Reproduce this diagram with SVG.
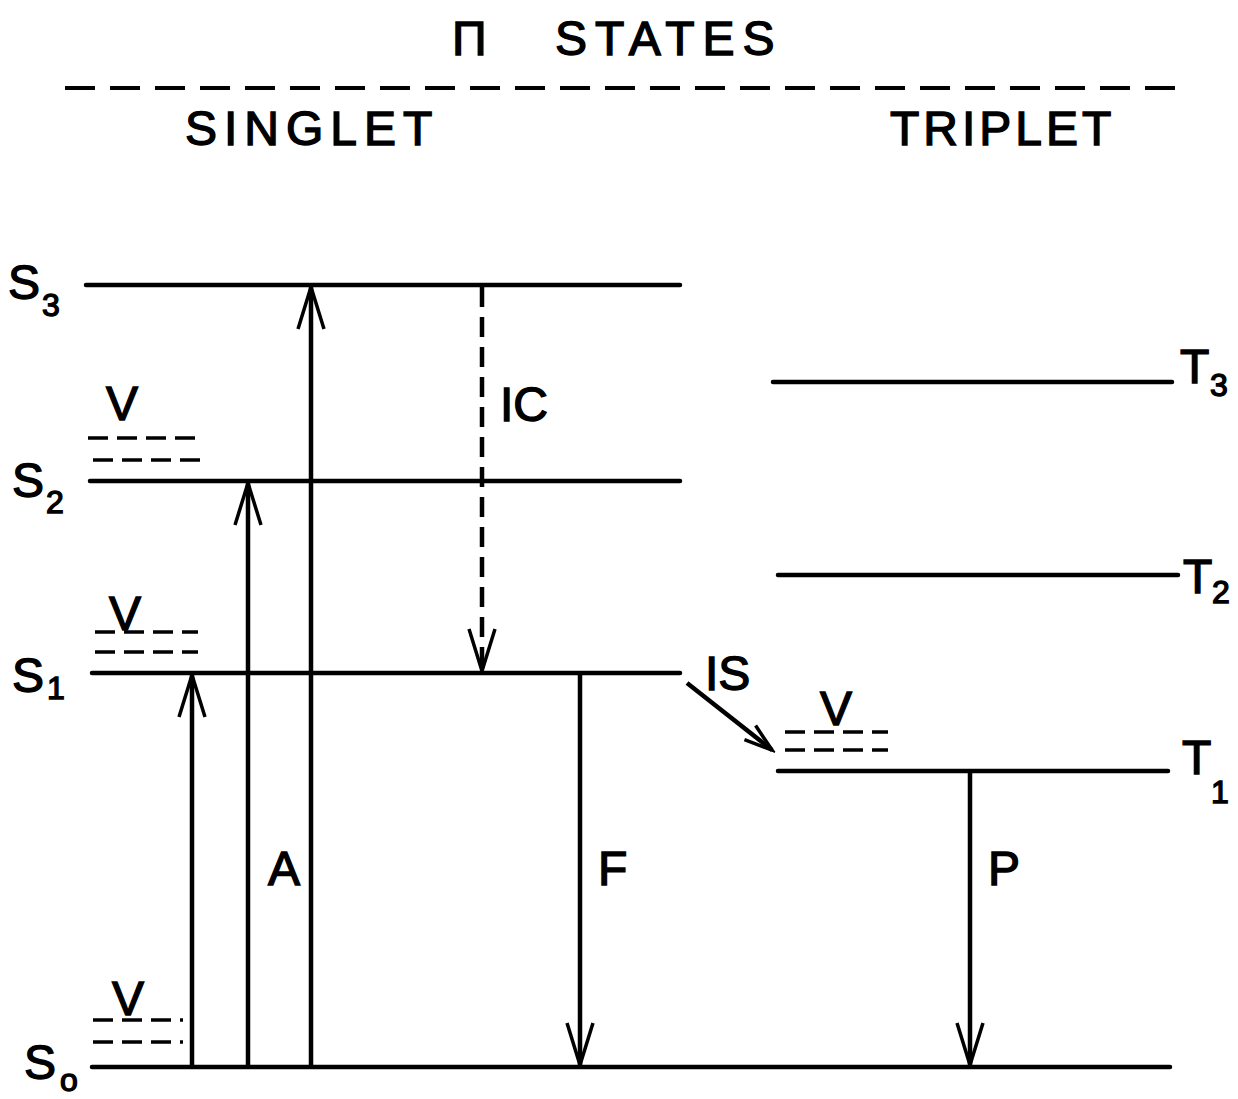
<svg xmlns="http://www.w3.org/2000/svg" width="1238" height="1099" viewBox="0 0 1238 1099">
<style>
text{font-family:"Liberation Sans",Arial,sans-serif;fill:#000;stroke:#000;stroke-width:1.4;}
.big{font-size:48px;}
.sub{font-size:32px;}
.lvl{stroke:#000;stroke-width:4.5;fill:none;stroke-linecap:round;}
.vib{stroke:#000;stroke-width:3.5;stroke-dasharray:20 9;fill:none;}
.arr{stroke:#000;stroke-width:4.5;fill:none;}
</style>
<defs>
<marker id="ah" markerUnits="userSpaceOnUse" markerWidth="50" markerHeight="34" viewBox="-46 -17 50 34" refX="0" refY="0" orient="auto">
<path d="M-42,-13 L0,0 L-42,13" fill="none" stroke="#000" stroke-width="3.5"/>
</marker>
<marker id="ahs" markerUnits="userSpaceOnUse" markerWidth="36" markerHeight="24" viewBox="-32 -12 36 24" refX="0" refY="0" orient="auto">
<path d="M-28,-9 L0,0 L-28,9" fill="none" stroke="#000" stroke-width="3.5"/>
</marker>
</defs>
<rect width="1238" height="1099" fill="#fff"/>
<g id="header">
<text class="big" x="452" y="55">Π</text>
<text class="big" x="555" y="55" letter-spacing="8">STATES</text>
<line x1="65" y1="88" x2="1190" y2="88" stroke="#000" stroke-width="4" stroke-dasharray="30 15"/>
<text class="big" x="185" y="145" font-size="50" letter-spacing="7">SINGLET</text>
<text class="big" x="890" y="145" font-size="50" letter-spacing="4">TRIPLET</text>
</g>
<g id="S3"><line class="lvl" x1="86" y1="285" x2="680" y2="285"/><text class="big" x="8" y="299">S</text><text class="sub" x="42" y="316">3</text></g>
<g id="S2"><line class="lvl" x1="90" y1="481" x2="680" y2="481"/><text class="big" x="12" y="497">S</text><text class="sub" x="46" y="513">2</text>
<line class="vib" x1="88" y1="438" x2="196" y2="438"/><line class="vib" x1="93" y1="460" x2="201" y2="460"/><text class="big" x="106" y="420">V</text></g>
<g id="S1"><line class="lvl" x1="92" y1="673" x2="680" y2="673"/><text class="big" x="12" y="692">S</text><text class="sub" x="47" y="699">1</text>
<line class="vib" x1="95" y1="632" x2="198" y2="632"/><line class="vib" x1="95" y1="652" x2="198" y2="652"/><text class="big" x="109" y="630">V</text></g>
<g id="S0"><line class="lvl" x1="92" y1="1067" x2="1170" y2="1067"/><text class="big" x="24" y="1079">S</text><text class="sub" x="60" y="1091" font-size="36">o</text>
<line class="vib" x1="93" y1="1020" x2="183" y2="1020"/><line class="vib" x1="93" y1="1042" x2="183" y2="1042"/><text class="big" x="112" y="1015">V</text></g>
<g id="T3"><line class="lvl" x1="773" y1="382" x2="1172" y2="382"/><text class="big" x="1180" y="383">T</text><text class="sub" x="1210" y="396">3</text></g>
<g id="T2"><line class="lvl" x1="778" y1="575" x2="1178" y2="575"/><text class="big" x="1183" y="593">T</text><text class="sub" x="1212" y="603">2</text></g>
<g id="T1"><line class="lvl" x1="778" y1="771" x2="1168" y2="771"/><text class="big" x="1182" y="774">T</text><text class="sub" x="1211" y="803">1</text>
<line class="vib" x1="785" y1="732" x2="888" y2="732"/><line class="vib" x1="785" y1="750" x2="888" y2="750"/><text class="big" x="820" y="725">V</text></g>
<g id="connectors">
<line class="arr" x1="192" y1="1067" x2="192" y2="675" marker-end="url(#ah)"/>
<line class="arr" x1="248" y1="1067" x2="248" y2="483" marker-end="url(#ah)"/>
<line class="arr" x1="311" y1="1067" x2="311" y2="287" marker-end="url(#ah)"/>
<line class="arr" x1="482" y1="287" x2="482" y2="671" stroke-dasharray="20 10" marker-end="url(#ah)"/>
<line class="arr" x1="580" y1="673" x2="580" y2="1065" marker-end="url(#ah)"/>
<line class="arr" x1="970" y1="771" x2="970" y2="1065" marker-end="url(#ah)"/>
<line class="arr" x1="687" y1="683" x2="772" y2="750" marker-end="url(#ahs)"/>
</g>
<g id="labels">
<text class="big" x="268" y="885">A</text>
<text class="big" x="500" y="421">IC</text>
<text class="big" x="598" y="885">F</text>
<text class="big" x="988" y="885">P</text>
<text class="big" x="705" y="690">IS</text>
</g>
</svg>
